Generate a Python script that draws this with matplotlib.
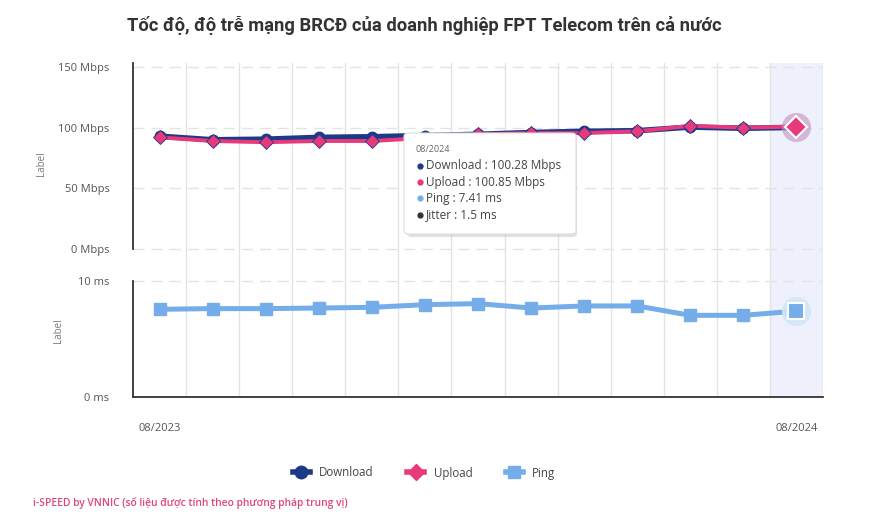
import matplotlib
matplotlib.use("Agg")
import matplotlib.pyplot as plt
from matplotlib.lines import Line2D
from matplotlib.patches import FancyBboxPatch

plt.rcParams['font.family'] = ['Open Sans', 'DejaVu Sans']

# Dữ liệu (ước lượng từ hình)
thang = ['08/2023', '09/2023', '10/2023', '11/2023', '12/2023', '01/2024', '02/2024',
         '03/2024', '04/2024', '05/2024', '06/2024', '07/2024', '08/2024']
download = [93.0, 90.0, 90.5, 92.0, 92.5, 93.5, 94.5, 96.0, 97.0, 97.5, 100.5, 99.5, 100.28]
upload = [92.0, 89.0, 88.0, 89.0, 89.0, 91.5, 94.5, 95.5, 95.5, 97.0, 101.5, 100.0, 100.85]
ping = [7.56, 7.62, 7.62, 7.67, 7.73, 7.96, 8.05, 7.67, 7.85, 7.85, 7.04, 7.04, 7.41]
tick_toc_do = [0, 50, 100, 150]
tick_ping = [0, 10]

c_down = '#1c3a87'
c_up = '#e8397d'
c_ping = '#74ade9'
c_grid = '#e3e3e3'
c_band = '#eef1fc'
c_text = '#555555'

W, H = 882, 525
fig = plt.figure(figsize=(W / 100, H / 100), dpi=100)

def fx(px):
    return px / W

def fy(py):
    return 1 - py / H

x = list(range(len(thang)))
n = len(thang)

ax1 = fig.add_axes([fx(133), fy(265), fx(823) - fx(133), fy(63) - fy(265)])
ax2 = fig.add_axes([fx(133), fy(397), fx(823) - fx(133), fy(265) - fy(397)])

for ax in (ax1, ax2):
    ax.set_xlim(-0.5, n - 0.5)
    ax.axvspan(n - 1.5, n - 0.5, color=c_band, zorder=0, lw=0)
    for k in range(n):
        ax.axvline(k + 0.5, color=c_grid, lw=1, zorder=1)
    for s in ('top', 'right', 'bottom'):
        ax.spines[s].set_visible(False)
    ax.spines['left'].set_color('#333333')
    ax.spines['left'].set_linewidth(1.3)
    ax.tick_params(axis='both', length=0, labelsize=8, labelcolor=c_text)
    ax.tick_params(axis='y', pad=17)
    ax.set_facecolor('none')

# Tốc độ
ax1.set_ylim(-13.2, 153.3)
ax1.spines['left'].set_bounds(0, 153.3)
ax1.set_yticks(tick_toc_do)
ax1.set_yticklabels([f'{v} Mbps' for v in tick_toc_do])
for v in tick_toc_do:
    ax1.axhline(v, color=c_grid, lw=1, dashes=(8, 5), zorder=1)
ax1.set_xticks([])
ax1.plot(x, download, color=c_down, lw=4, marker='o', ms=7.5, zorder=3, solid_capstyle='round')
ax1.plot(x, upload, color=c_up, lw=2.8, marker='D', ms=7, mec=c_down, mew=0.6, zorder=4)
ax1.plot(x[-1], upload[-1], marker='o', ms=21, color='#c28fc0', alpha=0.6, zorder=5, mew=0)
ax1.plot(x[-1], upload[-1], marker='D', ms=11, color=c_up, mec='white', mew=1.5, zorder=6)
ax1.set_ylabel('Label', fontsize=7, color='#777777', labelpad=8)

# Ping
ax2.set_ylim(0, 11.38)
ax2.spines['left'].set_bounds(0, 10)
ax2.spines['bottom'].set_visible(True)
ax2.spines['bottom'].set_color('#333333')
ax2.spines['bottom'].set_linewidth(1.3)
ax2.set_yticks(tick_ping)
ax2.set_yticklabels([f'{v} ms' for v in tick_ping])
ax2.axhline(10, color=c_grid, lw=1, dashes=(8, 5), zorder=1)
ax2.plot(x, ping, color=c_ping, lw=3.6, marker='s', ms=8, zorder=3)
ax2.plot(x[-1], ping[-1], marker='o', ms=21, color='#d4e5f8', alpha=0.9, zorder=4, mew=0)
ax2.plot(x[-1], ping[-1], marker='s', ms=11.5, color=c_ping, mec='white', mew=1.5, zorder=5)
ax2.set_xticks([0, n - 1])
ax2.set_xticklabels([thang[0], thang[-1]])
ax2.tick_params(axis='x', pad=19)
ax2.set_ylabel('Label', fontsize=7, color='#777777', labelpad=10)

# Tiêu đề
fig.text(fx(424), fy(25), 'Tốc độ, độ trễ mạng BRCĐ của doanh nghiệp FPT Telecom trên cả nước',
         ha='center', va='center', fontsize=13.2, fontweight='bold', color='#333333',
         family=['Roboto', 'DejaVu Sans'])

# Tooltip
shadow = FancyBboxPatch((fx(407), fy(237)), fx(577) - fx(407), fy(134) - fy(237),
                        boxstyle='round,pad=0,rounding_size=0.006', transform=fig.transFigure,
                        fc='#999999', ec='none', alpha=0.3, zorder=10)
box = FancyBboxPatch((fx(404), fy(234)), fx(576) - fx(404), fy(133) - fy(234),
                     boxstyle='round,pad=0,rounding_size=0.006', transform=fig.transFigure,
                     fc='white', ec='#dddddd', lw=0.8, zorder=11)
fig.add_artist(shadow)
fig.add_artist(box)
fig.text(fx(416), fy(150), thang[-1], fontsize=6.5, color='#666666', va='center', zorder=12)
tip_rows = [
    (c_down, f'Download : {download[-1]:.2f} Mbps'),
    (c_up, f'Upload : {upload[-1]:.2f} Mbps'),
    (c_ping, f'Ping : {ping[-1]:.2f} ms'),
    ('#333333', 'Jitter : 1.5 ms'),
]
for i, (c, t) in enumerate(tip_rows):
    yy = fy(166 + 16.2 * i)
    fig.add_artist(Line2D([fx(420)], [yy], marker='o', ms=3.5, color=c, transform=fig.transFigure, zorder=12))
    fig.text(fx(426), yy, t, fontsize=8.5, color='#444444', va='center', zorder=12)

# Chú thích
handles = [
    Line2D([], [], color=c_down, lw=4, marker='o', ms=9),
    Line2D([], [], color=c_up, lw=4, marker='D', ms=8),
    Line2D([], [], color=c_ping, lw=4, marker='s', ms=9),
]
fig.legend(handles, ['Download', 'Upload', 'Ping'], loc='center', ncol=3,
           bbox_to_anchor=(fx(424), fy(473)), frameon=False, fontsize=8.3,
           handlelength=1.5, columnspacing=2.9, handletextpad=0.8, labelcolor='#444444')

fig.text(fx(33), fy(503), 'i-SPEED by VNNIC (số liệu được tính theo phương pháp trung vị)',
         fontsize=7.4, color='#e0457b', va='center', fontweight='semibold')

fig.savefig('out.png', dpi=100)
